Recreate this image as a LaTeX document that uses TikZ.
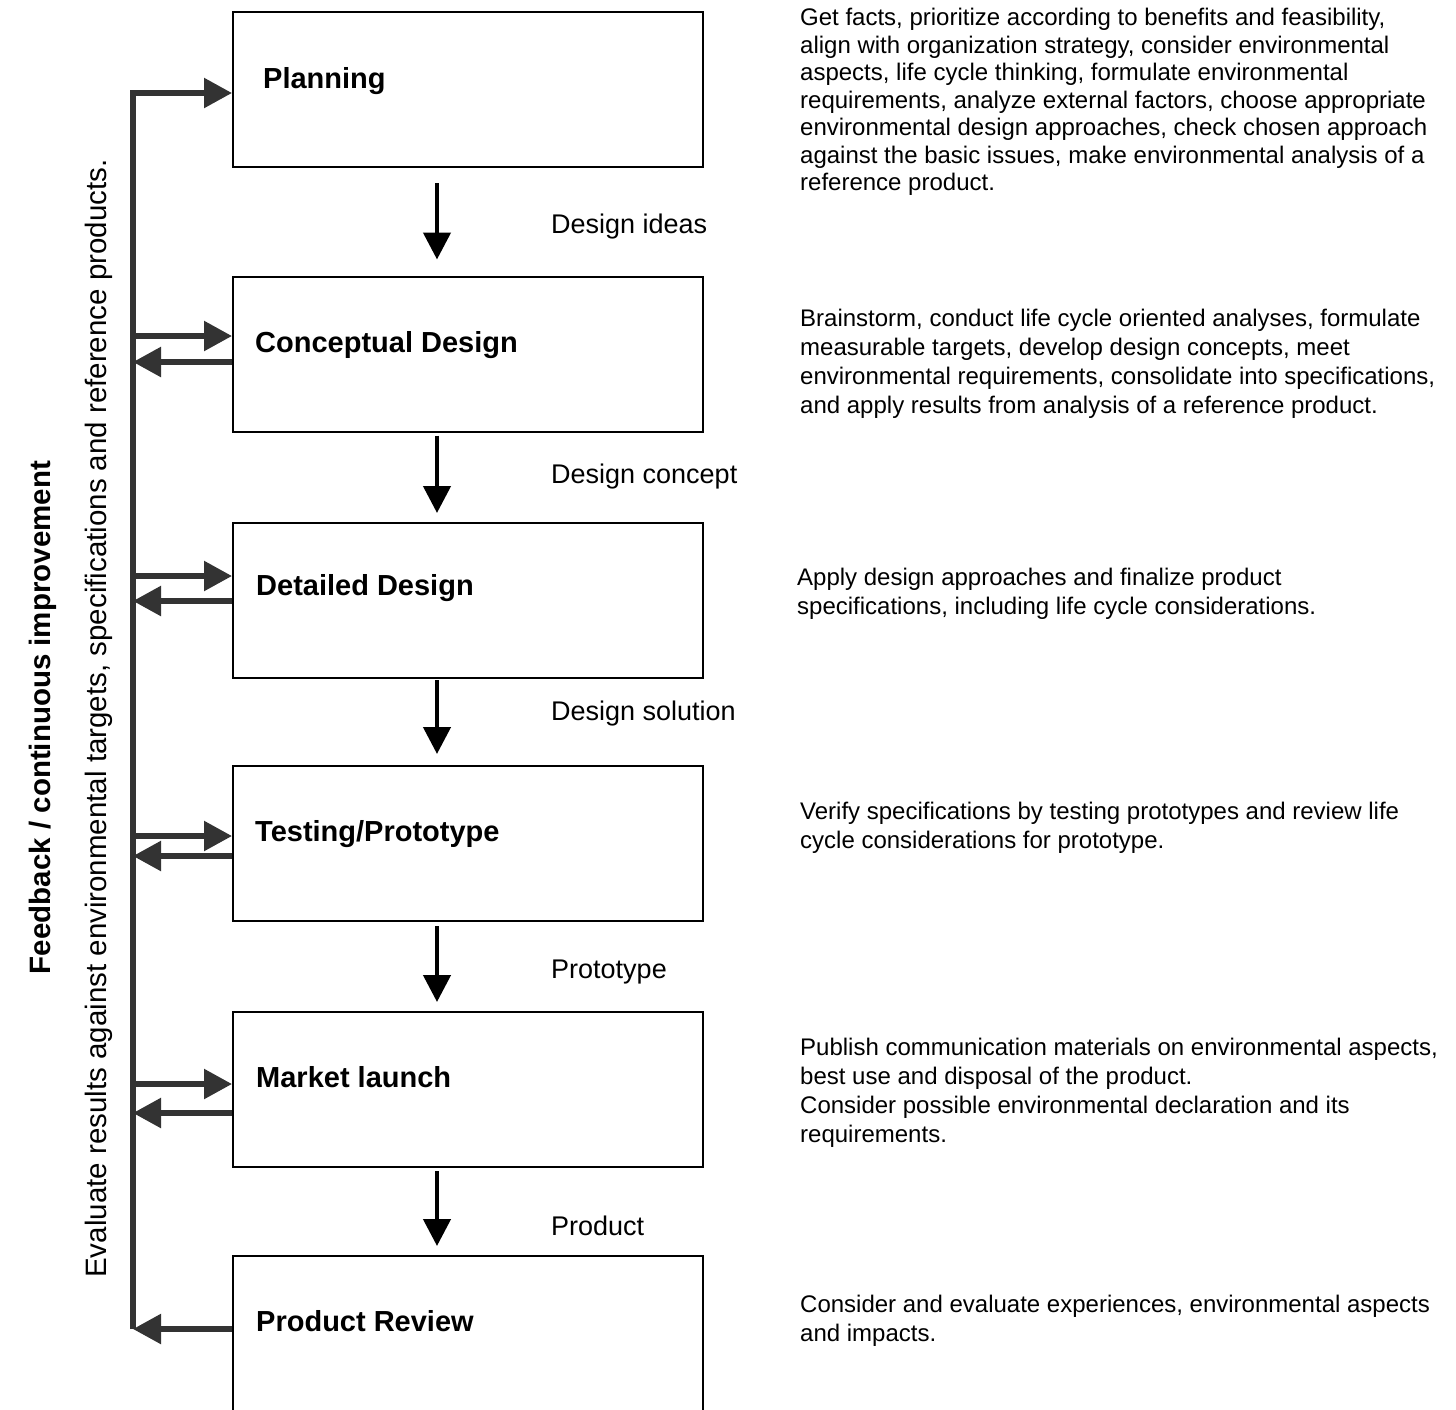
\documentclass[tikz,border=0pt]{standalone}
\usepackage{fontspec}
\setmainfont{Liberation Sans}
\usetikzlibrary{arrows.meta,calc,positioning}

\tikzset{
  stage/.style={draw,line width=2pt,minimum width=470pt,minimum height=155pt,inner sep=0pt},
  stagename/.style={font=\fontsize{29}{34}\selectfont\bfseries,inner sep=0pt,anchor=base west},
  flow/.style={line width=4.5pt,-{Triangle[length=27pt,width=27pt]}},
  fb/.style={draw=black!80,line width=5.5pt,line join=miter,-{Triangle[length=28pt,width=29pt]}},
  outcome/.style={font=\fontsize{27}{32}\selectfont,inner sep=0pt,anchor=base west},
  todo/.style={font=\fontsize{24}{29}\selectfont,align=left,inner sep=0pt,anchor=north west},
  sidenote/.style={font=\fontsize{29.5}{34}\selectfont,inner sep=0pt,anchor=base,rotate=90},
}

\begin{document}
\begin{tikzpicture}[x=1pt,y=-1pt]
  \useasboundingbox (0,0) rectangle (1456,1409);
  \clip (0,0) rectangle (1456,1409);
%
  \node[stage] (plan)    at (468,89.5)   {};
  \node[stage] (concept) at (468,354)    {};
  \node[stage] (detail)  at (468,600.5)  {};
  \node[stage] (test)    at (468,843.5)  {};
  \node[stage] (launch)  at (468,1089.5) {};
  \node[stage] (review)  at (468,1333.5) {};
%
  \node[stagename] (planname)    at (263,88.5)  {Planning};
  \node[stagename] (conceptname) at (255,352.5) {Conceptual Design};
  \node[stagename] (detailname)  at (256,595.5) {Detailed Design};
  \node[stagename] (testname)    at (255,841.5) {Testing/Prototype};
  \node[stagename] (launchname)  at (256,1087.5) {Market launch};
  \node[stagename] (reviewname)  at (256,1331.5) {Product Review};
%
  \node[outcome] (ideas)    at (551,233)  {Design ideas};
  \node[outcome] (concepts) at (551,483)  {Design concept};
  \node[outcome] (solution) at (551,720)  {Design solution};
  \node[outcome] (proto)    at (551,978)  {Prototype};
  \node[outcome] (product)  at (551,1235) {Product};
%
  \coordinate (spine) at (437,0);
  \foreach \a/\b/\s/\e in {plan/concept/15/16, concept/detail/3/9,
      detail/test/1/11, test/launch/4/9, launch/review/3/9}
    \draw[flow,shorten <=\s pt,shorten >=\e pt] (\a.south -| spine) -- (\b.north -| spine);
%
  % feedback loop on the left
  \coordinate (bartop) at (133,93);
  \coordinate (barbot) at (133,1329);
  \draw[fb] (barbot) -- (bartop) -- (bartop -| plan.west);
  \foreach \b/\i/\o in {concept/336/362, detail/576/601, test/836/856, launch/1084/1113} {
    \draw[fb] (bartop |- 0,\i) -- (\b.west |- 0,\i);
    \draw[fb] (\b.west |- 0,\o) -- (bartop |- 0,\o);
  }
  \draw[fb] (review.west |- barbot) -- (barbot);
%
  \node[sidenote,font=\fontsize{29.5}{34}\selectfont\bfseries] (fbtitle) at (50,717.5)
    {Feedback / continuous improvement};
  \node[sidenote] (fbnote) at (106,718.5)
    {Evaluate results against environmental targets, specifications and reference products.};
%
  \node[todo,font=\fontsize{24}{27.5}\selectfont] (plantodo) at (800,6.25)
    {\strut Get facts, prioritize according to benefits and feasibility,\\
     align with organization strategy, consider environmental\\
     aspects, life cycle thinking, formulate environmental\\
     requirements, analyze external factors, choose appropriate\\
     environmental design approaches, check chosen approach\\
     against the basic issues, make environmental analysis of a\\
     reference product.};
  \node[todo] (concepttodo) at (800,306.2)
    {\strut Brainstorm, conduct life cycle oriented analyses, formulate\\
     measurable targets, develop design concepts, meet\\
     environmental requirements, consolidate into specifications,\\
     and apply results from analysis of a reference product.};
  \node[todo] (detailtodo) at (797,565.2)
    {\strut Apply design approaches and finalize product\\
     specifications, including life cycle considerations.};
  \node[todo] (testtodo) at (800,799.2)
    {\strut Verify specifications by testing prototypes and review life\\
     cycle considerations for prototype.};
  \node[todo] (launchtodo) at (800,1035.2)
    {\strut Publish communication materials on environmental aspects,\\
     best use and disposal of the product.\\
     Consider possible environmental declaration and its\\
     requirements.};
  \node[todo] (reviewtodo) at (800,1292.2)
    {\strut Consider and evaluate experiences, environmental aspects\\
     and impacts.};
\end{tikzpicture}
\end{document}
